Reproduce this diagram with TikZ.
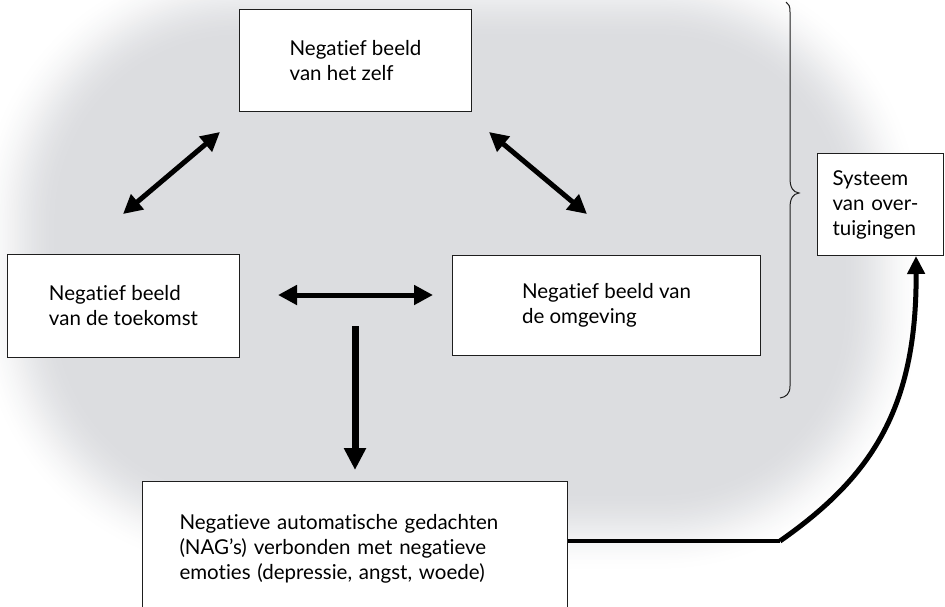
\documentclass[tikz,border=0pt]{standalone}
\usepackage{fontspec}
\setmainfont{Lato}[Ligatures=NoCommon]
\usetikzlibrary{arrows.meta,calc}
\definecolor{bggray}{RGB}{220,221,224}
\definecolor{boxline}{RGB}{30,30,30}
\tikzset{
  box/.style={draw=boxline, line width=1pt, fill=white, align=left, inner ysep=0pt, anchor=north west,
    font=\fontsize{20.5}{25}\selectfont},
  dbl/.style={line width=5pt, {Triangle[length=19pt,width=19pt]}-{Triangle[length=19pt,width=19pt]}},
  single/.style={line width=7pt, -{Triangle[length=22pt,width=21pt]}},
  curvearrow/.style={line width=5pt, -{Triangle[length=18pt,width=17pt]}},
  bracket/.style={line width=1pt, draw=boxline}
}
\begin{document}
\begin{tikzpicture}[x=1pt,y=-1pt]
\useasboundingbox (0,0) rectangle (945,607);
\clip (0,0) rectangle (945,607);
\foreach \i in {0,...,50}{
  \pgfmathsetmacro\t{\i/50}
  \pgfmathsetmacro\m{85*(1-\t)}
  \pgfmathsetmacro\p{100*\t*\t*(3-2*\t)}
  \pgfmathsetmacro\rr{180+\m}
  \fill[bggray!\p!white, rounded corners=\rr pt] (60-\m,40-\m) rectangle (840+\m,490+\m);
}

% boxes
\node[box, minimum width=232pt, minimum height=102pt] (self) at (239,9) {Negatief beeld\\van het zelf};
\node[box, minimum width=232pt, minimum height=103pt] (future) at (7,254) {Negatief beeld\\van de toekomst};
\node[box, minimum width=308pt, minimum height=100pt] (world) at (452,255) {Negatief beeld van\\de omgeving};
\node[box, text width=425pt-74pt, inner xsep=37pt, minimum height=134pt] (nag) at (142,481) {Negatieve automatische gedachten\\(NAG’s) verbonden met negatieve\\emoties (depressie, angst, woede)};
\node[box, text width=126pt-30pt, inner xsep=15pt, minimum height=102pt] (sys) at (817,153) {Systeem\\van over-\\tuigingen};

% arrow end points
\coordinate (l1) at (123,214);
\coordinate (l2) at (220,132);
\coordinate (r1) at (489,132);
\coordinate (r2) at (587,214);
\coordinate (h1) at (278,295);
\coordinate (h2) at (433,295);
\coordinate (v1) at (355,326);
\coordinate (k) at (780,541);
\coordinate (kend) at ($(sys.south west)+(99,0)$);

\draw[dbl] (l1) -- (l2);
\draw[dbl] (r1) -- (r2);
\draw[dbl] (h1) -- (h2);
\draw[single, shorten >=11pt] (v1) -- (v1 |- nag.north);

\draw[line width=3.5pt] (nag.north east |- k) -- (k);
\draw[curvearrow] (k) .. controls (870,478) and (917,410) .. (kend);

% brace
\draw[bracket] (786,2) .. controls (789,4) and (790,6) .. (790,12)
  -- (790,178) .. controls (790,188) and (793,192) .. (799,193)
  .. controls (793,194) and (790,198) .. (790,208)
  -- (790,386) .. controls (790,394) and (786,397) .. (780,398);
\end{tikzpicture}
\end{document}
